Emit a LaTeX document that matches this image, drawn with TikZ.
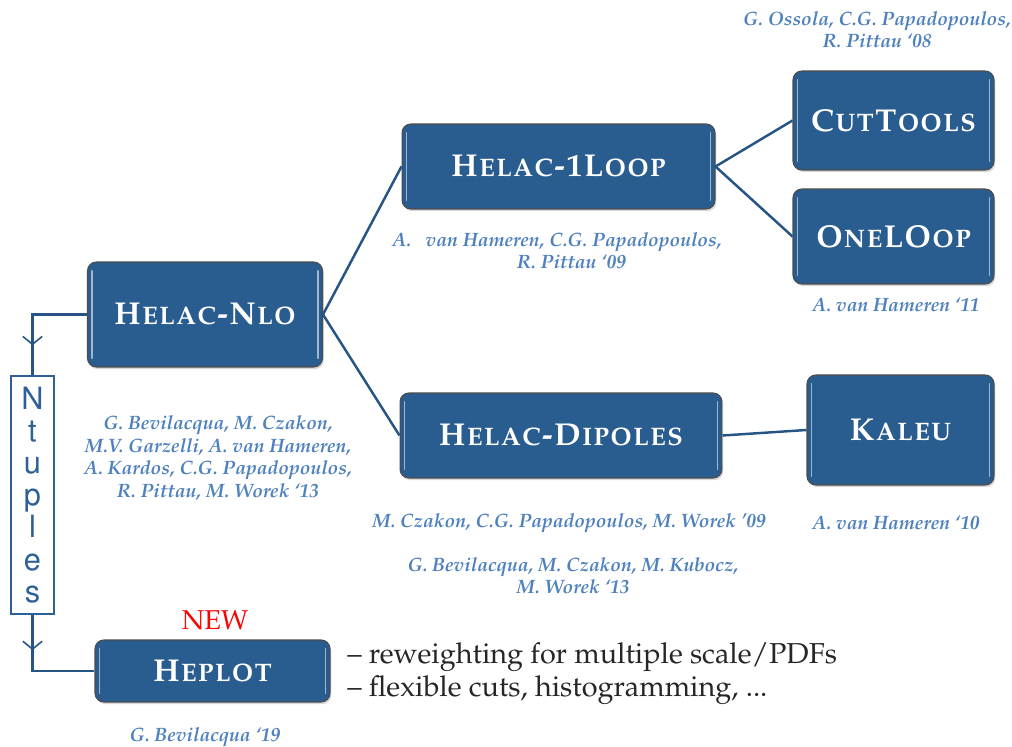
\documentclass[tikz,border=0pt]{standalone}
\usepackage[T1]{fontenc}
\usepackage{mathpazo}
\usepackage{tikz}
\usetikzlibrary{arrows.meta,decorations.markings,shadows}

\definecolor{boxblue}{RGB}{41,92,143}
\definecolor{lineblue}{RGB}{38,84,132}
\definecolor{authblue}{RGB}{79,129,189}
\definecolor{ntblue}{RGB}{46,96,152}

\tikzset{
  box/.style={draw=black!70, line width=0.6pt, fill=boxblue, rounded corners=5pt,
    inner sep=0pt, text=white, font=\fontsize{18}{20}\selectfont\bfseries\scshape,
    drop shadow={opacity=0.3, shadow xshift=0.8pt, shadow yshift=-1.2pt},
    path picture={
      \draw[white!55!boxblue, line width=1pt, line cap=round]
        ([xshift=2.6pt,yshift=-5pt]path picture bounding box.north west) --
        ([xshift=2.6pt,yshift=5pt]path picture bounding box.south west);
      \draw[white!55!boxblue, line width=1pt, line cap=round]
        ([xshift=-2.6pt,yshift=-5pt]path picture bounding box.north east) --
        ([xshift=-2.6pt,yshift=5pt]path picture bounding box.south east);
    }},
  link/.style={draw=lineblue, line width=1.4pt},
  auth/.style={text=authblue, align=center, inner sep=0pt,
    font=\fontsize{11}{12.8}\selectfont\bfseries\itshape},
  midarrow/.style={postaction={decorate}, decoration={markings,
    mark=at position #1 with {\arrow{Straight Barb[length=4.5pt,width=11pt,line width=0.9pt]}}}}
}

\begin{document}
\begin{tikzpicture}[x=0.02cm,y=-0.02cm]
\useasboundingbox (0,0) rectangle (1012,747);

% programs
\node[box, minimum width=4.70cm, minimum height=2.10cm] (nlo) at (205,314.5) {Helac-Nlo};
\node[box, minimum width=6.26cm, minimum height=1.70cm] (loop) at (558.5,166.5) {Helac-1Loop};
\node[box, minimum width=4.02cm, minimum height=1.98cm] (cut) at (893.5,120.5) {CutTools};
\node[box, minimum width=4.02cm, minimum height=1.90cm] (one) at (893.5,236.5) {OneLOop};
\node[box, minimum width=6.44cm, minimum height=1.70cm] (dip) at (561,435.5) {Helac-Dipoles};
\node[box, minimum width=3.74cm, minimum height=2.20cm] (kal) at (900.5,430) {Kaleu};
\node[box, minimum width=4.70cm, minimum height=1.24cm] (hep) at (212.5,671) {Heplot};

\node[draw=ntblue, line width=0.8pt, text=ntblue, inner sep=0pt, minimum width=0.86cm,
  minimum height=4.76cm, align=center, font=\fontsize{17.5}{18.3}\fontfamily{phv}\selectfont]
  (nt) at (32.5,495) {N\\t\\u\\p\\l\\e\\s};

% connectors
\draw[link] (nlo.east) -- (loop.west);
\draw[link] (nlo.east) -- (dip.west);
\draw[link] (loop.east) -- (cut.west);
\draw[link] (loop.east) -- (one.west);
\draw[link] (dip.east) -- (kal.west);
\draw[link, midarrow=0.74] (nlo.west) -| (nt.north);
\draw[link, midarrow=0.30] (nt.south) |- (hep.west);

% authors
\node[auth] (cutauth) at (877,30) {G. Ossola, C.G. Papadopoulos,\\R. Pittau `08};
\node[auth] (loopauth) at (557,251) {A.\ \ \ van Hameren, C.G. Papadopoulos,\\\hspace*{1.5em}R. Pittau `09};
\node[auth] (oneauth) at (896,305) {A. van Hameren `11};
\node[auth] (nloauth) at (218,458) {G. Bevilacqua, M. Czakon,\\M.V. Garzelli, A. van Hameren,\\A. Kardos, C.G. Papadopoulos,\\R. Pittau, M. Worek `13};
\node[auth] (dipauth) at (569,523) {M. Czakon, C.G. Papadopoulos, M. Worek '09};
\node[auth] (dipauthb) at (573,576) {G. Bevilacqua, M. Czakon, M. Kubocz,\\M. Worek `13};
\node[auth] (kalauth) at (896,523) {A. van Hameren `10};
\node[auth] (hepauth) at (205,737) {G. Bevilacqua `19};

\node[text=red, font=\fontsize{15.5}{17}\selectfont] (new) at (215,620) {NEW};
\node[anchor=west, align=left, inner sep=0pt, text=black!85,
  font=\fontsize{16.4}{18.7}\selectfont] (feat) at (347,674)
  {-- reweighting for multiple scale/PDFs\\-- flexible cuts, histogramming, ...};
\end{tikzpicture}
\end{document}
